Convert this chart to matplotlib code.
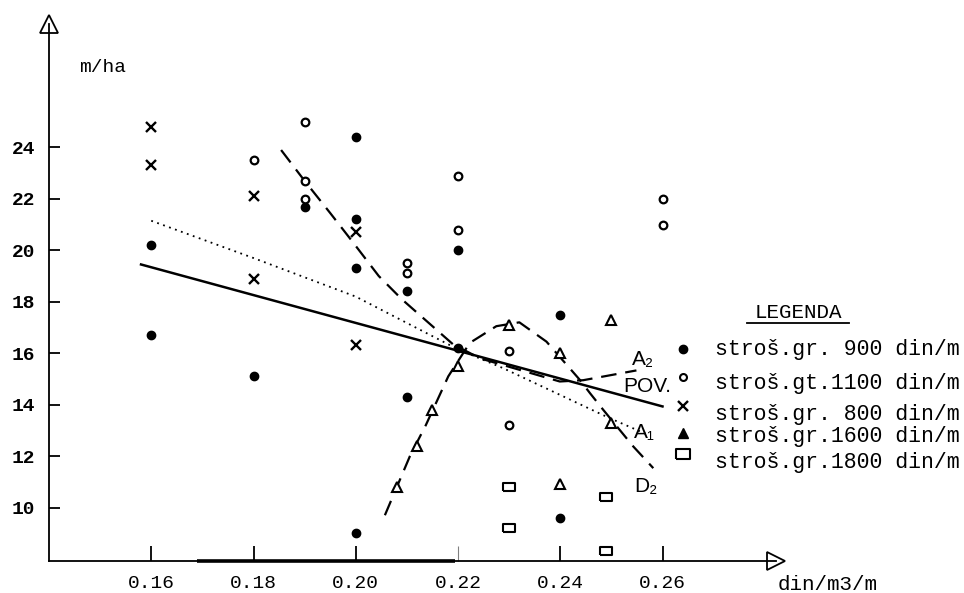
import matplotlib
matplotlib.use("Agg")
import matplotlib.pyplot as plt

# strošak grupe 900 din/m
x900 = [0.16, 0.16, 0.18, 0.19, 0.20, 0.20, 0.20, 0.20, 0.21, 0.21, 0.22, 0.22, 0.24, 0.24]
y900 = [20.2, 16.7, 15.1, 21.7, 24.4, 21.2, 19.3, 9.0, 18.4, 14.3, 20.0, 16.2, 17.5, 9.6]

# strošak grupe 1100 din/m
x1100 = [0.18, 0.19, 0.19, 0.19, 0.21, 0.21, 0.22, 0.22, 0.23, 0.23, 0.26, 0.26]
y1100 = [23.5, 25.0, 22.7, 22.0, 19.5, 19.1, 22.9, 20.8, 16.1, 13.2, 22.0, 21.0]

# strošak grupe 800 din/m
x800 = [0.16, 0.16, 0.18, 0.18, 0.20, 0.20]
y800 = [24.8, 23.3, 22.1, 18.9, 20.7, 16.3]

# strošak grupe 1600 din/m
x1600 = [0.208, 0.212, 0.215, 0.22, 0.23, 0.24, 0.24, 0.25, 0.25]
y1600 = [10.8, 12.4, 13.8, 15.5, 17.1, 16.0, 10.9, 17.3, 13.3]

# strošak grupe 1800 din/m
x1800 = [0.23, 0.23, 0.249, 0.249]
y1800 = [10.8, 9.2, 10.4, 8.3]

# krivulje
pov_x = [0.158, 0.26]
pov_y = [19.45, 13.93]

a1_x = [0.16, 0.18, 0.20, 0.22, 0.2288, 0.2497, 0.2575]
a1_y = [21.15, 19.7, 18.2, 16.15, 15.42, 13.47, 12.8]

a2_x = [0.1854, 0.19, 0.195, 0.1995, 0.2045, 0.209, 0.219, 0.2243, 0.2399, 0.2445, 0.2549]
a2_y = [23.9, 22.7, 21.45, 20.3, 19.0, 18.1, 16.35, 15.8, 14.9, 14.95, 15.33]

d2_x = [0.2057, 0.2106, 0.2137, 0.2181, 0.2223, 0.2275, 0.232, 0.2373, 0.2438,
        0.2458, 0.2484, 0.2517, 0.2543, 0.2582]
d2_y = [9.7, 12.0, 13.2, 15.1, 16.4, 17.05, 17.2, 16.45, 14.97,
        14.45, 13.8, 13.0, 12.37, 11.53]

x_ticks = [0.16, 0.18, 0.20, 0.22, 0.24, 0.26]
x_labels = ['0.16', '0.18', '0.20', '0.22', '0.24', '0.26']
y_ticks = [10, 12, 14, 16, 18, 20, 22, 24]
y_labels = ['10', '12', '14', '16', '18', '20', '22', '24']

legend_labels = ['stroš.gr. 900 din/m', 'stroš.gt.1100 din/m', 'stroš.gr. 800 din/m',
                 'stroš.gr.1600 din/m', 'stroš.gr.1800 din/m']

MONO = ['Liberation Mono', 'DejaVu Sans Mono']
SANS = ['Liberation Sans', 'DejaVu Sans']
rect = [(-1.4, -1), (1.4, -1), (1.4, 1), (-1.4, 1), (-1.4, -1)]

fig = plt.figure(figsize=(9.64, 5.93), dpi=100)
ax = fig.add_axes([49 / 964, 32 / 593, (776 - 49) / 964, (561 - 24) / 593])
ax.set_xlim(0.14, 0.2822)
ax.set_ylim(7.92, 28.8)

for s in ['top', 'right']:
    ax.spines[s].set_visible(False)
for s in ['left', 'bottom']:
    ax.spines[s].set_linewidth(1.3)

# deblji dio x ose
ax.plot([0.169, 0.2195], [7.92, 7.92], color='black', lw=2.6, clip_on=False,
        solid_capstyle='butt')

# strelice na krajevima osi
ax.plot([0.14], [28.8], marker='^', ms=13, mfc='white', mec='black', mew=1.3, clip_on=False)
ax.plot([0.2822], [7.92], marker='>', ms=13, mfc='white', mec='black', mew=1.3, clip_on=False)

ax.set_xticks(x_ticks)
ax.set_xticklabels(x_labels, fontfamily=MONO, fontsize=14)
ax.set_yticks(y_ticks)
ax.set_yticklabels(y_labels, fontfamily=MONO, fontsize=14, fontweight='bold')
ax.tick_params(axis='x', direction='in', length=11, width=1.3, pad=10)
ax.tick_params(axis='y', direction='in', length=8, width=1.3, pad=10)
# oznaka 0.22 je samo tačkasta
t22 = ax.xaxis.get_major_ticks()[3].tick1line
t22.set_markeredgewidth(0.8)
t22.set_alpha(0.5)

ax.text(0.1504, 27.1, 'm/ha', fontfamily=MONO, fontsize=14, ha='center', va='center')
ax.text(0.2923, 7.0, 'din/m3/m', fontfamily=MONO, fontsize=15, ha='center', va='center',
        clip_on=False)

# krivulje
ax.plot(pov_x, pov_y, color='black', lw=1.8)
ax.plot(a1_x, a1_y, color='black', lw=1.3, linestyle=(0, (1, 2.5)))
ax.plot(a2_x, a2_y, color='black', lw=1.6, linestyle=(0, (7, 4)))
ax.plot(d2_x, d2_y, color='black', lw=1.6, linestyle=(0, (7, 4)))

# tačke
ax.plot(x900, y900, 'o', ms=6, color='black', linestyle='none')
ax.plot(x1100, y1100, 'o', ms=5.5, mfc='white', mec='black', mew=1.6, linestyle='none')
ax.plot(x800, y800, 'x', ms=7, mec='black', mew=1.7, linestyle='none')
ax.plot(x1600, y1600, '^', ms=6.5, mfc='white', mec='black', mew=1.5, linestyle='none')
ax.plot(x1800, y1800, marker=rect, ms=9, mfc='white', mec='black', mew=1.5, linestyle='none')

# oznake krivulja
ax.text(0.2562, 15.74, 'A₂', fontfamily=SANS, fontsize=15, ha='center', va='center')
ax.text(0.2571, 14.69, 'POV.', fontfamily=SANS, fontsize=15, ha='center', va='center')
ax.text(0.2565, 12.9, 'A₁', fontfamily=SANS, fontsize=15, ha='center', va='center')
ax.text(0.2568, 10.8, 'D₂', fontfamily=SANS, fontsize=15, ha='center', va='center')

# legenda
ax.text(0.2865, 17.57, 'LEGENDA', fontfamily=MONO, fontsize=15, ha='center', va='center')
ax.plot([0.2765, 0.2965], [17.17, 17.17], color='black', lw=1.3, clip_on=False)

leg_mark_y = [16.16, 15.07, 13.95, 12.89, 12.09]
leg_text_y = [16.13, 14.84, 13.6, 12.76, 11.75]
ax.plot(0.264, leg_mark_y[0], 'o', ms=6, color='black', clip_on=False)
ax.plot(0.264, leg_mark_y[1], 'o', ms=5, mfc='white', mec='black', mew=1.5, clip_on=False)
ax.plot(0.264, leg_mark_y[2], 'x', ms=7, mec='black', mew=1.7, clip_on=False)
ax.plot(0.264, leg_mark_y[3], '^', ms=7, color='black', clip_on=False)
ax.plot(0.264, leg_mark_y[4], marker=rect, ms=10, mfc='white', mec='black', mew=1.5, clip_on=False)
for ty, lab in zip(leg_text_y, legend_labels):
    ax.text(0.2702, ty, lab, fontfamily=MONO, fontsize=15.5, ha='left', va='center')

fig.savefig('out.png', dpi=100)
